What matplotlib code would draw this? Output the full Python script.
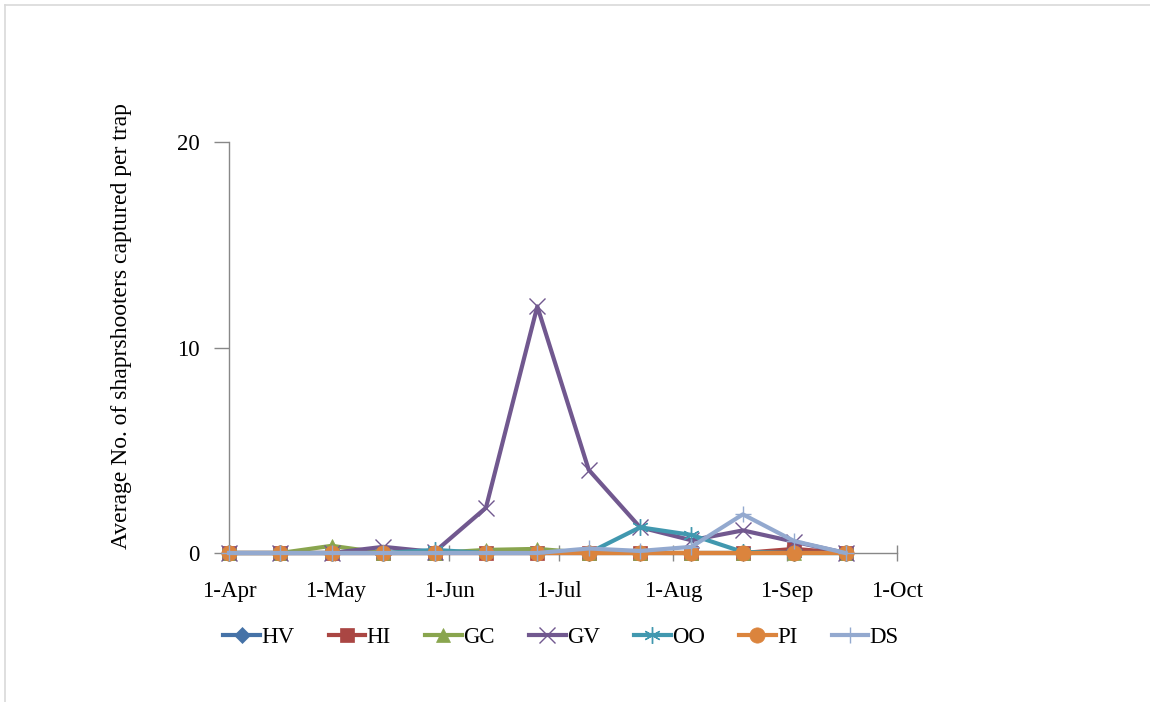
import matplotlib
matplotlib.use("Agg")
import matplotlib.pyplot as plt
from matplotlib.lines import Line2D
import datetime as dt

dates = ["2021-04-02", "2021-04-16", "2021-04-30", "2021-05-14", "2021-05-28",
         "2021-06-11", "2021-06-25", "2021-07-09", "2021-07-23", "2021-08-06",
         "2021-08-20", "2021-09-03", "2021-09-17"]
HV = [0, 0, 0, 0, 0, 0, 0, 0, 0, 0, 0, 0, 0]
HI = [0, 0, 0, 0, 0, 0, 0, 0, 0, 0, 0, 0.2, 0]
GC = [0, 0, 0.35, 0, 0, 0.15, 0.2, 0, 0, 0, 0, 0, 0]
GV = [0, 0, 0, 0.3, 0.05, 2.2, 12.0, 4.05, 1.25, 0.62, 1.1, 0.55, 0]
OO = [0, 0, 0, 0, 0.15, 0, 0, 0, 1.25, 0.88, 0.05, 0, 0]
PI = [0, 0, 0, 0, 0, 0, 0, 0, 0, 0, 0, 0, 0]
DS = [0, 0, 0, 0, 0, 0, 0, 0.22, 0.1, 0.3, 1.88, 0.58, 0]
tick_dates = ["2021-04-02", "2021-05-01", "2021-06-01", "2021-07-01",
              "2021-08-01", "2021-09-01", "2021-10-01"]
tick_labels = ["1-Apr", "1-May", "1-Jun", "1-Jul", "1-Aug", "1-Sep", "1-Oct"]
y_ticks = [0, 10, 20]

x = [dt.datetime.strptime(d, "%Y-%m-%d") for d in dates]
xt = [dt.datetime.strptime(d, "%Y-%m-%d") for d in tick_dates]

plt.rcParams['font.family'] = ['Liberation Serif', 'DejaVu Serif']

fig = plt.figure(figsize=(11.5, 7.02), dpi=100)
ax = fig.add_axes([229/1150, 1-553/702, (897-229)/1150, (553-142)/702])

series = [
    ("HV", HV, "#4572A7", "D", 8),
    ("HI", HI, "#AA4643", "s", 10),
    ("GC", GC, "#89A54E", "^", 10),
    ("GV", GV, "#71588F", "x", 12),
    ("OO", OO, "#4198AF", (6, 2, 0), 12),
    ("PI", PI, "#DB843D", "o", 11),
    ("DS", DS, "#93A9CF", "+", 12),
]
for name, vals, col, mk, ms in series:
    kw = dict(color=col, lw=3.0, marker=mk, markersize=ms, label=name,
              solid_joinstyle='round', clip_on=False, zorder=3)
    if mk in ("x", "+") or isinstance(mk, tuple):
        kw.update(markeredgewidth=1.0, markeredgecolor=col)
    else:
        kw.update(markeredgewidth=0.5, markeredgecolor=col, markerfacecolor=col)
    ax.plot(x, vals, **kw)

ax.set_xlim(xt[0], xt[-1])
ax.set_ylim(0, 20)
ax.set_xticks(xt)
ax.set_xticklabels(tick_labels)
ax.set_yticks(y_ticks)
for s in ("top", "right"):
    ax.spines[s].set_visible(False)
for s in ("left", "bottom"):
    ax.spines[s].set_color("#888888")
    ax.spines[s].set_linewidth(1.0)
ax.tick_params(axis='x', direction='inout', length=12, width=1, color="#888888",
               labelsize=16.5, pad=14)
ax.tick_params(axis='y', direction='out', length=11, width=1, color="#888888",
               labelsize=16.5, pad=10)
ax.set_ylabel("Average No. of shaprshooters captured per trap", fontsize=17,
              va='center')
ax.yaxis.set_label_coords((122 - 229) / 668, (553 - 326) / 411)

leg = fig.legend(loc='center', bbox_to_anchor=(561/1150, 1-637/702), ncol=7,
                 frameon=False, fontsize=16.5, handlelength=1.6, handletextpad=0.05,
                 columnspacing=1.5)

fig.add_artist(Line2D([5/1150, 5/1150], [0, 1-5/702], color="#d9d9d9", lw=1.2,
                      transform=fig.transFigure))
fig.add_artist(Line2D([5/1150, 1], [1-5/702, 1-5/702], color="#d9d9d9", lw=1.2,
                      transform=fig.transFigure))

fig.savefig("out.png", dpi=100)
